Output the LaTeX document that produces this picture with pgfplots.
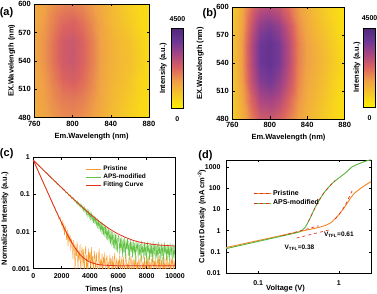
\documentclass[border=0pt]{standalone}
\usepackage{pgfplots}
\pgfplotsset{compat=1.18}
\usepackage{fontspec}
\setmainfont{Liberation Sans}
\definecolor{corange}{RGB}{248,155,45}
\definecolor{cgreen}{RGB}{100,195,70}
\definecolor{cred}{RGB}{225,50,30}
\definecolor{dorange}{RGB}{245,130,30}
\definecolor{dgreen}{RGB}{90,180,60}
\pgfplotsset{
  colormap={pl}{rgb255=(255,240,0) rgb255=(245,200,40) rgb255=(240,160,70) rgb255=(220,100,95) rgb255=(170,70,130) rgb255=(110,55,150) rgb255=(80,40,120)},
  myaxis/.style={scale only axis, axis line style={line width=0.7pt}, tick style={line width=0.5pt,black}, major tick length=2.5pt,
    tick label style={font=\fontsize{7}{8}\selectfont\bfseries},
    label style={font=\fontsize{7.5}{9}\selectfont\bfseries},
    /pgf/number format/assume math mode=true, /pgf/number format/1000 sep={}},
  hm/.style={myaxis, view={0}{90}, xmin=760, xmax=880, ymin=480, ymax=600,
    xtick={760,800,840,880}, ytick={480,510,540,570,600},
    tick label style={font=\fontsize{7.5}{8}\selectfont\bfseries},
    colormap name=pl, point meta min=0, point meta max=4500, axis on top,
    xlabel={Em.Wavelength (nm)}, ylabel={EX.Wavelength (nm)}},
}
\begin{document}
\begin{tikzpicture}
\useasboundingbox (0,0) rectangle (377pt,294pt);
% (a)
\begin{axis}[hm, at={(34.3pt,176.3pt)}, anchor=south west, width=114.7pt, height=113.7pt,
  xlabel style={at={(axis description cs:0.5,-0.167)}, anchor=center},
  ylabel style={at={(axis description cs:-0.197,0.5)}, anchor=center},
  colorbar,
  colorbar style={at={(parent axis.south east)}, anchor=south west, xshift=13.9pt, yshift=9.4pt,
    scale only axis, width=12pt, height=80pt, ytick=\empty, axis line style={line width=0.8pt},
    extra description/.code={
      \node[font=\fontsize{7}{8}\selectfont\bfseries, anchor=south] at (0.5,1.045) {4500};
      \node[font=\fontsize{7}{8}\selectfont\bfseries, anchor=north] at (0.5,-0.055) {0};
      \node[font=\fontsize{7.5}{8}\selectfont\bfseries, rotate=90, anchor=center] at (-0.68,0.5) {Intensity (a.u.)};
    }}]
\addplot3[surf, shader=interp, mesh/cols=13] table {
x y z
760 480 1250
770 480 1400
780 480 1600
790 480 1750
800 480 1800
810 480 1700
820 480 1500
830 480 1250
840 480 1000
850 480 800
860 480 600
870 480 450
880 480 350
760 500 1300
770 500 1500
780 500 1750
790 500 1950
800 500 2000
810 500 1900
820 500 1650
830 500 1350
840 500 1100
850 500 900
860 500 700
870 500 500
880 500 380
760 520 1350
770 520 1550
780 520 1900
790 520 2250
800 520 2350
810 520 2150
820 520 1800
830 520 1400
840 520 1150
850 520 1000
860 520 800
870 520 550
880 520 400
760 540 1400
770 540 1650
780 540 2050
790 540 2450
800 540 2550
810 540 2300
820 540 1900
830 540 1450
840 540 1200
850 540 1050
860 540 900
870 540 650
880 540 420
760 560 1400
770 560 1650
780 560 2050
790 560 2450
800 560 2550
810 560 2300
820 560 1900
830 560 1450
840 560 1200
850 560 1000
860 560 850
870 560 600
880 560 400
760 580 1350
770 580 1550
780 580 1900
790 580 2200
800 580 2300
810 580 2100
820 580 1750
830 580 1400
840 580 1100
850 580 900
860 580 700
870 580 500
880 580 380
760 600 1300
770 600 1450
780 600 1700
790 600 1850
800 600 1900
810 600 1800
820 600 1550
830 600 1300
840 600 1050
850 600 800
860 600 600
870 600 450
880 600 350
};
\end{axis}
% (b)
\begin{axis}[hm, at={(232.3pt,175pt)}, anchor=south west, width=112.4pt, height=112pt,
  xlabel style={at={(axis description cs:0.5,-0.17)}, anchor=center},
  ylabel style={at={(axis description cs:-0.285,0.5)}, anchor=center},
  colorbar,
  colorbar style={at={(parent axis.south east)}, anchor=south west, xshift=10.3pt, yshift=12pt,
    scale only axis, width=12pt, height=79pt, ytick=\empty, axis line style={line width=0.8pt},
    extra description/.code={
      \node[font=\fontsize{7}{8}\selectfont\bfseries, anchor=south] at (0.5,1.045) {4500};
      \node[font=\fontsize{7}{8}\selectfont\bfseries, anchor=north] at (0.5,-0.07) {0};
      \node[font=\fontsize{7.5}{8}\selectfont\bfseries, rotate=90, anchor=center] at (-0.56,0.5) {Intensity (a.u.)};
    }}]
\addplot3[surf, shader=interp, mesh/cols=13] table {
x y z
760 480 650
770 480 1200
780 480 1900
790 480 2450
800 480 2550
810 480 2350
820 480 1900
830 480 1450
840 480 1150
850 480 900
860 480 650
870 480 450
880 480 300
760 500 700
770 500 1350
780 500 2250
790 500 2950
800 500 3100
810 500 2850
820 500 2250
830 500 1650
840 500 1250
850 500 1000
860 500 750
870 500 500
880 500 320
760 520 750
770 520 1500
780 520 2650
790 520 3450
800 520 3650
810 520 3300
820 520 2600
830 520 1800
840 520 1350
850 520 1100
860 520 850
870 520 550
880 520 350
760 540 800
770 540 1550
780 540 2800
790 540 3750
800 540 3950
810 540 3600
820 540 2800
830 540 1900
840 540 1450
850 540 1200
860 540 950
870 540 650
880 540 380
760 560 800
770 560 1550
780 560 2800
790 560 3750
800 560 3950
810 560 3600
820 560 2800
830 560 1900
840 560 1450
850 560 1150
860 560 900
870 560 600
880 560 360
760 580 750
770 580 1450
780 580 2550
790 580 3350
800 580 3550
810 580 3250
820 580 2550
830 580 1750
840 580 1300
850 580 1000
860 580 750
870 580 500
880 580 330
760 600 700
770 600 1300
780 600 2150
790 600 2700
800 600 2800
810 600 2600
820 600 2100
830 600 1550
840 600 1200
850 600 900
860 600 650
870 600 450
880 600 300
};
\end{axis}
% (c)
\begin{axis}[myaxis, at={(33.3pt,25.3pt)}, anchor=south west, width=141.7pt, height=111.2pt,
  ymode=log, xmin=0, xmax=10000, ymin=0.001, ymax=1,
  xtick={0,2000,4000,6000,8000,10000}, scaled x ticks=false,
  ytick={0.001,0.01,0.1,1}, yticklabels={0.001,0.01,0.1,1}, yminorticks=false,
  xticklabel style={yshift=-1.5pt},
  xlabel={Times (ns)}, ylabel={Normalized Intensity (a.u.)},
  xlabel style={at={(axis description cs:0.5,-0.189)}, anchor=center},
  ylabel style={at={(axis description cs:-0.2,0.45)}, anchor=center},
  legend style={at={(0.36,0.955)}, anchor=north west, draw=none, fill=none,
    font=\fontsize{6.5}{7}\selectfont\bfseries, row sep=-2pt, inner sep=1pt},
  legend image code/.code={\draw[#1] (0pt,0pt) -- (15pt,0pt);},
  legend cell align=left]
\addplot[corange, line width=0.45pt] table {
0 0.86
100 0.70
200 0.56
300 0.48
400 0.38
500 0.32
600 0.25
700 0.22
800 0.17
900 0.15
1000 0.115
1100 0.10
1200 0.077
1300 0.068
1400 0.050
1500 0.047
1600 0.034
1700 0.032
1800 0.022
1900 0.024
2000 0.015
2050 0.019
2100 0.011
2150 0.017
2200 0.008
2250 0.014
2300 0.012
2350 0.006
2400 0.011
2450 0.004
2500 0.009
2550 0.0055
2600 0.008
2650 0.003
2700 0.0065
2750 0.0045
2800 0.0018
2850 0.006
2900 0.0035
2950 0.0008
3000 0.0045
3050 0.0022
3100 0.0052
3150 0.0009
3200 0.0031
3250 0.0017
3300 0.0046
3350 0.0006
3400 0.0028
3450 0.0038
3500 0.0012
3550 0.0033
3600 0.0007
3650 0.0026
3700 0.0041
3750 0.0010
3800 0.0024
3850 0.0005
3900 0.0035
3950 0.0016
4000 0.0029
4050 0.0008
4100 0.0038
4150 0.0013
4200 0.0022
4250 0.0006
4300 0.0030
4350 0.0019
4400 0.0009
4450 0.0027
4500 0.0014
4550 0.0005
4600 0.0025
4650 0.0032
4700 0.0008
4750 0.0018
4800 0.0011
4850 0.0026
4900 0.0006
4950 0.0021
5000 0.0013
5050 0.0028
5100 0.0005
5150 0.0017
5200 0.0023
5250 0.0009
5300 0.0015
5350 0.0006
5400 0.0024
5450 0.0012
5500 0.0019
5550 0.0005
5600 0.0022
5650 0.0010
5700 0.0016
5750 0.0027
5800 0.0007
5850 0.0014
5900 0.0020
5950 0.0005
6000 0.0017
6050 0.0011
6100 0.0023
6150 0.0008
6200 0.0015
6250 0.0019
6300 0.0005
6350 0.0021
6400 0.0012
6450 0.0009
6500 0.0018
6550 0.0024
6600 0.0006
6650 0.0014
6700 0.0010
6750 0.0020
6800 0.0005
6850 0.0016
6900 0.0022
6950 0.0008
7000 0.0013
7050 0.0019
7100 0.0006
7150 0.0017
7200 0.0011
7250 0.0023
7300 0.0005
7350 0.0015
7400 0.0009
7450 0.0020
7500 0.0013
7550 0.0006
7600 0.0018
7650 0.0024
7700 0.0008
7750 0.0014
7800 0.0011
7850 0.0021
7900 0.0005
7950 0.0016
8000 0.0012
8050 0.0019
8100 0.0007
8150 0.0022
8200 0.0010
8250 0.0015
8300 0.0005
8350 0.0018
8400 0.0013
8450 0.0024
8500 0.0008
8550 0.0016
8600 0.0011
8650 0.0020
8700 0.0006
8750 0.0014
8800 0.0019
8850 0.0009
8900 0.0023
8950 0.0005
9000 0.0017
9050 0.0012
9100 0.0021
9150 0.0007
9200 0.0015
9250 0.0010
9300 0.0019
9350 0.0005
9400 0.0016
9450 0.0022
9500 0.0009
9550 0.0014
9600 0.0011
9650 0.0020
9700 0.0006
9750 0.0017
9800 0.0013
9850 0.0021
9900 0.0008
9950 0.0015
10000 0.0011
};
\addlegendentry{Pristine}
\addplot[cgreen, line width=0.45pt] table {
0 0.86
100 0.77
200 0.72
300 0.64
400 0.61
500 0.54
600 0.51
700 0.45
800 0.43
900 0.38
1000 0.37
1100 0.32
1200 0.31
1300 0.27
1400 0.26
1500 0.225
1600 0.22
1700 0.19
1800 0.185
1900 0.158
2000 0.16
2100 0.133
2200 0.135
2300 0.11
2400 0.115
2500 0.094
2600 0.098
2700 0.078
2800 0.085
2900 0.066
3000 0.070
3050 0.058
3100 0.066
3150 0.052
3200 0.061
3250 0.049
3300 0.057
3350 0.045
3400 0.053
3450 0.040
3500 0.049
3550 0.036
3600 0.046
3650 0.034
3700 0.041
3750 0.029
3800 0.039
3850 0.026
3900 0.036
3950 0.024
4000 0.034
4050 0.022
4100 0.031
4150 0.019
4200 0.029
4250 0.017
4300 0.027
4350 0.016
4400 0.025
4450 0.014
4500 0.023
4550 0.012
4600 0.021
4650 0.0115
4700 0.019
4750 0.010
4800 0.018
4850 0.0085
4900 0.017
4950 0.008
5000 0.016
5050 0.0072
5100 0.0145
5150 0.0063
5200 0.013
5250 0.0058
5300 0.0125
5350 0.0052
5400 0.011
5450 0.0047
5500 0.0105
5550 0.0041
5600 0.0098
5650 0.0036
5700 0.0092
5750 0.0033
5800 0.0086
5850 0.0030
5900 0.0082
5950 0.0027
6000 0.0078
6050 0.0072
6100 0.0024
6150 0.0068
6200 0.0030
6250 0.0075
6300 0.0021
6350 0.0062
6400 0.0027
6450 0.0070
6500 0.0019
6550 0.0058
6600 0.0033
6650 0.0066
6700 0.0022
6750 0.0055
6800 0.0017
6850 0.0063
6900 0.0028
6950 0.0052
7000 0.0020
7050 0.0060
7100 0.0025
7150 0.0049
7200 0.0016
7250 0.0057
7300 0.0029
7350 0.0050
7400 0.0019
7450 0.0054
7500 0.0023
7550 0.0047
7600 0.0015
7650 0.0056
7700 0.0026
7750 0.0045
7800 0.0018
7850 0.0052
7900 0.0022
7950 0.0046
8000 0.0014
8050 0.0053
8100 0.0027
8150 0.0044
8200 0.0017
8250 0.0050
8300 0.0021
8350 0.0047
8400 0.0015
8450 0.0055
8500 0.0024
8550 0.0043
8600 0.0018
8650 0.0049
8700 0.0020
8750 0.0045
8800 0.0014
8850 0.0052
8900 0.0025
8950 0.0042
9000 0.0016
9050 0.0048
9100 0.0022
9150 0.0044
9200 0.0013
9250 0.0051
9300 0.0026
9350 0.0041
9400 0.0017
9450 0.0047
9500 0.0021
9550 0.0043
9600 0.0015
9650 0.0050
9700 0.0023
9750 0.0040
9800 0.0016
9850 0.0046
9900 0.0020
9950 0.0042
10000 0.0018
};
\addlegendentry{APS-modified}
\addplot[cred, line width=0.8pt] table {
0 0.851
250 0.519
500 0.316
750 0.193
1000 0.118
1250 0.0724
1500 0.0446
1750 0.0276
2000 0.0173
2250 0.0110
2500 0.00716
2750 0.00483
3000 0.00341
3250 0.00255
3500 0.00202
3750 0.0017
4000 0.0015
4500 0.00131
5000 0.00124
6000 0.0012
10000 0.0012
};
\addlegendentry{Fitting Curve}
\addplot[cred, line width=0.8pt, forget plot] table {
0 0.850
250 0.685
500 0.552
750 0.445
1000 0.359
1250 0.289
1500 0.234
1750 0.189
2000 0.153
2250 0.124
2500 0.100
2750 0.0814
3000 0.0663
3250 0.0541
3500 0.0444
3750 0.0365
4000 0.0301
4250 0.0250
4500 0.0209
4750 0.0176
5000 0.0150
5250 0.0128
5500 0.0111
5750 0.0097
6000 0.0086
6500 0.0070
7000 0.0059
7500 0.0052
8000 0.0048
8500 0.0045
9000 0.0043
9500 0.0042
10000 0.0041
};
\end{axis}
% (d)
\begin{axis}[myaxis, at={(226pt,21pt)}, anchor=south west, width=145pt, height=113pt,
  xmode=log, ymode=log, xmin=0.04, xmax=2.5, ymin=0.01, ymax=2200,
  xtick={0.1,1}, xticklabels={0.1,1},
  ytick={0.01,0.1,1,10,100,1000}, yticklabels={0.01,0.1,1,10,100,1000},
  xminorticks=false, yminorticks=false,
  xticklabel style={yshift=-4pt}, yticklabel style={xshift=-2pt},
  xlabel={Voltage (V)}, ylabel={Current Density (mA cm\textsuperscript{-2})},
  xlabel style={at={(axis description cs:0.41,-0.139)}, anchor=center},
  ylabel style={at={(axis description cs:-0.166,0.5)}, anchor=center},
  legend style={at={(0.179,0.761)}, anchor=north west, draw=none, fill=none,
    font=\fontsize{7}{7}\selectfont\bfseries, row sep=-1pt, inner sep=1pt},
  legend image code/.code={\draw[#1] (0pt,0pt) -- (17pt,0pt); \draw[cred, dashed, line width=0.5pt] (0pt,0pt) -- (17pt,0pt);},
  legend cell align=left]
\addplot[dorange, line width=0.9pt] table {
0.04 0.160
0.05 0.192
0.07 0.254
0.1 0.341
0.15 0.478
0.2 0.607
0.25 0.731
0.3 0.85
0.35 0.96
0.4 1.07
0.5 1.28
0.6 1.52
0.7 1.85
0.8 2.4
0.85 3.0
0.9 3.7
0.95 4.6
1.0 5.8
1.05 7.3
1.1 9.2
1.15 11.5
1.2 14.5
1.3 23
1.4 36
1.5 50
1.6 64
1.8 92
2.0 122
2.2 155
2.5 210
};
\addlegendentry{Pristine}
\addplot[dgreen, line width=0.9pt] table {
0.04 0.141
0.05 0.171
0.07 0.229
0.1 0.311
0.15 0.441
0.2 0.564
0.25 0.684
0.3 0.80
0.33 0.90
0.35 1.02
0.38 1.4
0.4 1.9
0.42 2.7
0.44 3.9
0.46 5.6
0.48 8
0.5 11
0.55 22
0.6 38
0.65 60
0.7 85
0.75 115
0.8 150
0.9 230
1.0 310
1.1 410
1.2 530
1.3 700
1.43 1000
1.6 1250
1.8 1500
2.0 1750
2.2 2000
2.5 2250
};
\addlegendentry{APS-modified}
\addplot[cred, dashed, line width=0.7pt, forget plot] table {
0.42 2.7
0.44 3.9
0.46 5.6
0.48 8
0.5 11
0.55 22
0.6 38
0.65 60
0.7 85
0.75 115
0.8 150
0.9 235
};
\addplot[cred, dashed, line width=0.7pt, forget plot] table {
0.9 3.6
1.0 5.6
1.1 9.5
1.2 16
1.3 30
1.4 55
1.5 95
};
\addplot[cred, dashed, line width=0.7pt, forget plot] table {
0.3 0.45
0.78 1.12
};
\addplot[cred, dashed, line width=0.7pt, forget plot] table {
0.2 0.58
0.56 1.7
};
\node[font=\fontsize{6.5}{7}\selectfont\bfseries] at (axis cs:0.325,0.15) {V\textsubscript{TFL}=0.38};
\node[font=\fontsize{6.5}{7}\selectfont\bfseries] at (axis cs:1.0,0.62) {V\textsubscript{TFL}=0.61};
\end{axis}
\node[font=\fontsize{11}{12}\selectfont\bfseries] at (6.5pt,281pt) {(a)};
\node[font=\fontsize{11}{12}\selectfont\bfseries] at (209.7pt,280pt) {(b)};
\node[font=\fontsize{11}{12}\selectfont\bfseries] at (6.7pt,140pt) {(c)};
\node[font=\fontsize{11}{12}\selectfont\bfseries] at (205.5pt,138pt) {(d)};
\end{tikzpicture}
\end{document}
